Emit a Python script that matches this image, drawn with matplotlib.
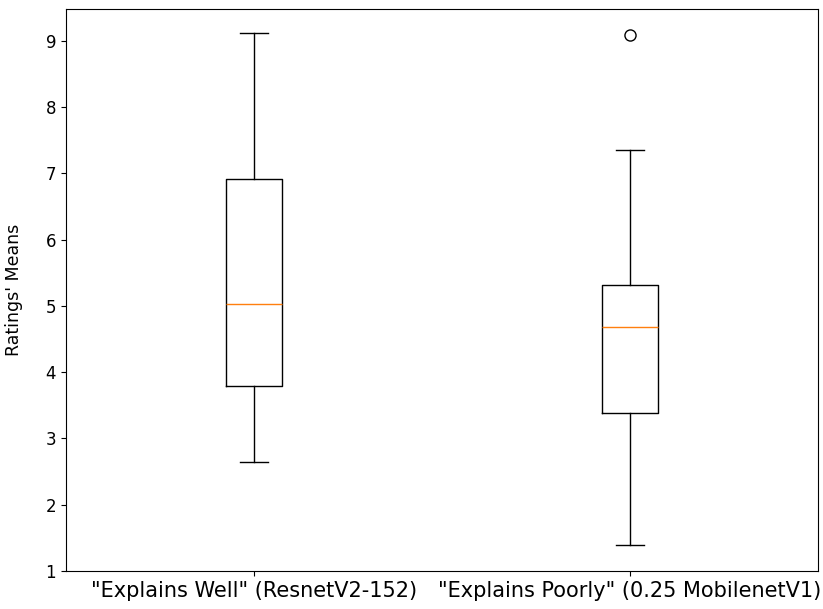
import matplotlib
matplotlib.use("Agg")
import matplotlib.pyplot as plt

labels = ['"Explains Well" (ResnetV2-152)', '"Explains Poorly" (0.25 MobilenetV1)']
whislo = [2.65, 1.39]
q1 = [3.79, 3.38]
med = [5.03, 4.68]
q3 = [6.91, 5.32]
whishi = [9.12, 7.35]
fliers = [[], [9.09]]

stats = []
for i in range(len(labels)):
    stats.append({
        "label": labels[i],
        "whislo": whislo[i],
        "q1": q1[i],
        "med": med[i],
        "q3": q3[i],
        "whishi": whishi[i],
        "fliers": fliers[i],
    })

fig, ax = plt.subplots(figsize=(8.23, 6.09), dpi=100)
fig.subplots_adjust(left=0.080, right=0.994, bottom=0.0624, top=0.985)
ax.bxp(stats, flierprops={"markersize": 8})
ax.set_ylim(1, 9.48)
ax.set_ylabel("Ratings' Means", fontsize=12.5, labelpad=16)
ax.tick_params(axis="y", labelsize=12)
ax.tick_params(axis="x", labelsize=15)
fig.savefig("out.png", dpi=100)
